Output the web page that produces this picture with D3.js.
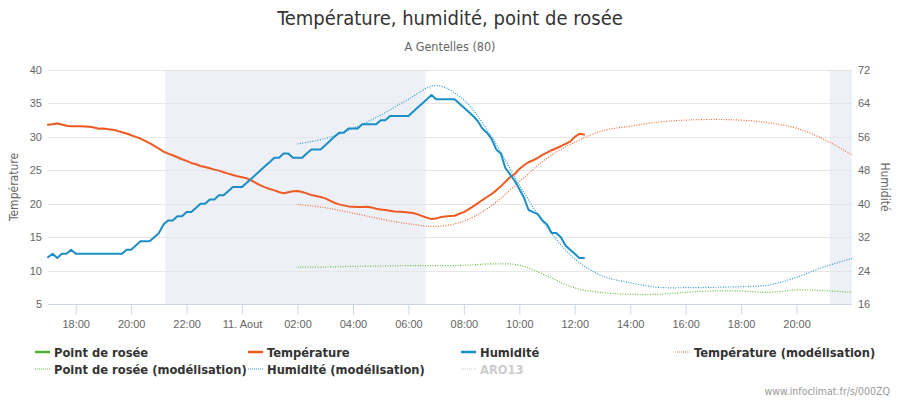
<!DOCTYPE html>
<html><head><meta charset="utf-8">
<script src="https://cdn.jsdelivr.net/npm/d3@7"></script>
<style>
body{margin:0;background:#fff;}
svg{font-family:"DejaVu Sans Condensed","DejaVu Sans",sans-serif;font-stretch:condensed;}
</style></head>
<body><svg id="c" width="900" height="400"></svg>
<script>
// ---------- DATA ----------
const obsStart = new Date(2020, 7, 10, 17, 0);   // observations every 10 min
const obsStepMin = 10;
const tempObs = [31.8,31.9,32.0,31.85,31.65,31.6,31.6,31.6,31.55,31.5,
31.4,31.2,31.25,31.15,31.05,30.9,30.7,30.5,30.25,30.0,
29.75,29.4,29.05,28.65,28.25,27.8,27.5,27.25,26.95,26.65,
26.4,26.1,25.9,25.65,25.5,25.3,25.1,24.95,24.7,24.5,
24.3,24.1,23.95,23.8,23.5,23.1,22.75,22.45,22.2,22.0,
21.75,21.55,21.7,21.85,21.9,21.75,21.55,21.3,21.15,21.0,
20.8,20.45,20.15,19.9,19.75,19.6,19.55,19.5,19.5,19.55,
19.45,19.25,19.15,19.05,18.95,18.85,18.8,18.75,18.7,18.6,
18.4,18.15,17.9,17.7,17.8,18.0,18.1,18.15,18.2,18.5,
18.75,19.15,19.6,20.05,20.55,21.0,21.45,22.0,22.6,23.3,
23.95,24.45,25.2,25.75,26.2,26.5,26.85,27.3,27.65,28.0,
28.3,28.6,28.95,29.3,30.0,30.45,30.35];
const humObs = [27.2,28,27,28,28,29,28,28,28,28,
28,28,28,28,28,28,28,29,29,30,
31,31,31,32,33,35,36,36,37,37,
38,38,39,40,40,41,41,42,42,43,
44,44,44,45,46,47,48,49,50,51,
51,52,52,51,51,51,52,53,53,53,
54,55,56,57,57,58,58,58,59,59,
59,59,60,60,61,61,61,61,61,62,
63,64,65,66,65,65,65,65,65,64,
63,62,61,59.8,58,57,55.5,53,52,48.5,
47,45.5,43.5,41.5,38.5,38,37.5,36,35,33,
33,32,30,29,28,27,27];
const dewObs = [];   // no observed dew point drawn
const modStart = new Date(2020, 7, 11, 2, 0);    // model hourly
const tempMod = [19.9,19.4,18.6,17.7,17.0,16.6,17.4,19.7,23.3,26.8,29.2,30.9,31.6,32.2,32.5,32.6,32.5,32.1,31.3,29.6,27.3];
const humMod  = [54.3,55.6,58.0,61.2,65.0,68.3,64.8,56.0,44.5,34.3,26.8,22.7,21.1,20.0,19.9,20.0,20.15,20.55,22.4,24.9,26.9];
const dewMod  = [10.5,10.53,10.63,10.68,10.73,10.73,10.78,11.0,10.8,9.2,7.4,6.7,6.45,6.45,6.75,6.95,6.95,6.75,7.1,7.0,6.75];
const nightBands = [[new Date(2020,7,10,21,14), new Date(2020,7,11,6,37)], [new Date(2020,7,11,21,12), new Date(2020,7,11,22,0)]];
const xDomain = [new Date(2020,7,10,17,0), new Date(2020,7,11,22,0)];
const leftTicks = [5,10,15,20,25,30,35,40];
const rightTicks = [16,24,32,40,48,56,64,72];
const titleText = "Température, humidité, point de rosée";
const subtitleText = "A Gentelles (80)";
const leftTitle = "Température", rightTitle = "Humidité";
const legendItems = [
  {name:"Point de rosée", color:"#4fb02e", dotted:false},
  {name:"Température", color:"#ef5a23", dotted:false},
  {name:"Humidité", color:"#1b8ec7", dotted:false},
  {name:"Température (modélisation)", color:"#f26b3a", dotted:true},
  {name:"Point de rosée (modélisation)", color:"#62c03c", dotted:true},
  {name:"Humidité (modélisation)", color:"#2a9ad0", dotted:true},
  {name:"ARO13", color:"#cccccc", dotted:true, hidden:true}
];
const credits = "www.infoclimat.fr/s/000ZQ";

// ---------- CHART ----------
const svg = d3.select("#c");
const L = 48, R = 852, T = 70, B = 304;
const x = d3.scaleTime().domain(xDomain).range([L, R]);
const yL = d3.scaleLinear().domain([5, 40]).range([B, T]);
const yR = d3.scaleLinear().domain([16, 72]).range([B, T]);

const obs = (arr) => arr.map((v, i) => ({t: d3.timeMinute.offset(obsStart, i * obsStepMin), v}));
const mod = (arr) => arr.map((v, i) => ({t: d3.timeHour.offset(modStart, i), v}));

// bands
svg.append("g").selectAll("rect").data(nightBands).join("rect")
  .attr("x", d => x(d[0])).attr("y", T)
  .attr("width", d => x(d[1]) - x(d[0])).attr("height", B - T)
  .attr("fill", "#edf0f7");

// grid
svg.append("g").selectAll("line").data(leftTicks.slice(1)).join("line")
  .attr("x1", L).attr("x2", R)
  .attr("y1", d => Math.round(yL(d)) + 0.5).attr("y2", d => Math.round(yL(d)) + 0.5)
  .attr("stroke", "#e6e6e6").attr("stroke-width", 1);

// x axis
const xTicks = d3.timeHour.every(2).range(xDomain[0], xDomain[1]);
const xAxis = d3.axisBottom(x).tickValues(xTicks).tickSize(10).tickPadding(6)
  .tickFormat(d => (d.getHours() === 0 ? "11. Aout" : d3.timeFormat("%H:%M")(d)));
const gx = svg.append("g").attr("transform", `translate(0,${B + 0.5})`).call(xAxis);
gx.select(".domain").attr("stroke", "#ccd6eb").attr("d", `M${L},0H${R}`);
gx.selectAll(".tick line").attr("stroke", "#ccd6eb");
gx.selectAll(".tick text").attr("fill", "#666").attr("font-size", 11);

// left axis
const gl = svg.append("g").attr("transform", `translate(${L},0)`)
  .call(d3.axisLeft(yL).tickValues(leftTicks).tickSize(0).tickPadding(6));
gl.select(".domain").remove();
gl.selectAll(".tick text").attr("fill", "#666").attr("font-size", 11);
// right axis
const gr = svg.append("g").attr("transform", `translate(${R},0)`)
  .call(d3.axisRight(yR).tickValues(rightTicks).tickSize(0).tickPadding(6));
gr.select(".domain").remove();
gr.selectAll(".tick text").attr("fill", "#666").attr("font-size", 11);

// axis titles
svg.append("text").attr("transform", `translate(18,${(T + B) / 2}) rotate(-90)`)
  .attr("text-anchor", "middle").attr("fill", "#666").attr("font-size", 12).text(leftTitle);
svg.append("text").attr("transform", `translate(881,${(T + B) / 2}) rotate(90)`)
  .attr("text-anchor", "middle").attr("fill", "#666").attr("font-size", 12).text(rightTitle);

// title
svg.append("text").attr("x", 450).attr("y", 25).attr("text-anchor", "middle")
  .attr("fill", "#333").attr("font-size", 20).text(titleText);
svg.append("text").attr("x", 450).attr("y", 51).attr("text-anchor", "middle")
  .attr("fill", "#666").attr("font-size", 12.5).text(subtitleText);

// series
const lineL = d3.line().x(d => x(d.t)).y(d => yL(d.v));
const lineR = d3.line().x(d => x(d.t)).y(d => yR(d.v));
const splL = d3.line().curve(d3.curveCatmullRom.alpha(0.5)).x(d => x(d.t)).y(d => yL(d.v));
const splR = d3.line().curve(d3.curveCatmullRom.alpha(0.5)).x(d => x(d.t)).y(d => yR(d.v));
const gS = svg.append("g");
function path(data, gen, color, dotted) {
  gS.append("path").datum(data).attr("d", gen).attr("fill", "none")
    .attr("stroke", color).attr("stroke-width", dotted ? 1.2 : 2)
    .attr("stroke-dasharray", dotted ? "1,1.5" : null)
    .attr("stroke-linejoin", "round").attr("stroke-linecap", dotted ? "butt" : "round");
}
path(mod(dewMod), splL, legendItems[4].color, true);
path(mod(tempMod), splL, legendItems[3].color, true);
path(mod(humMod), splR, legendItems[5].color, true);
if (dewObs.length) path(obs(dewObs), lineL, legendItems[0].color, false);
path(obs(tempObs), lineL, legendItems[1].color, false);
path(obs(humObs), lineR, legendItems[2].color, false);

// legend
const colX = [35, 248, 461, 675];
const rowsY = [352, 369];
const gLeg = svg.append("g");
let prevEnd = 0;
legendItems.forEach((it, i) => {
  const row = Math.floor(i / 4), col = i % 4;
  let sx = colX[col];
  if (col > 0 && prevEnd + 1 > sx) sx = prevEnd + 1;
  const y = rowsY[row];
  const g = gLeg.append("g");
  g.append("line").attr("x1", sx).attr("x2", sx + 15).attr("y1", y).attr("y2", y)
    .attr("stroke", it.hidden ? "#cccccc" : it.color)
    .attr("stroke-width", it.dotted ? 1 : 2.5)
    .attr("stroke-dasharray", it.dotted ? "1,1" : null);
  const t = g.append("text").attr("x", sx + 19).attr("y", y + 4.5)
    .attr("font-size", 12.8).attr("font-weight", "bold")
    .attr("fill", it.hidden ? "#cccccc" : "#333").text(it.name);
  prevEnd = sx + 19 + t.node().getComputedTextLength();
  if (col === 3) prevEnd = 0;
});

svg.append("text").attr("x", 890).attr("y", 395).attr("text-anchor", "end")
  .attr("fill", "#999").attr("font-size", 10.5).text(credits);
</script></body></html>
